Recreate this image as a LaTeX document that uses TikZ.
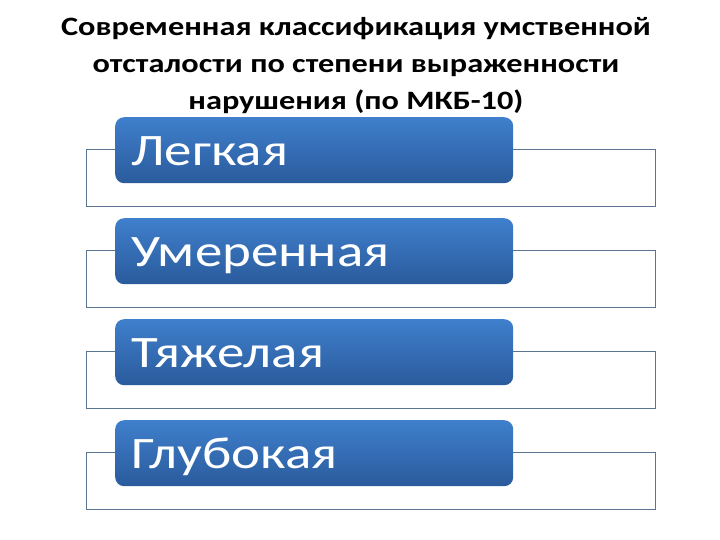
\documentclass[tikz,border=0pt]{standalone}
\usepackage{fontspec}
\setmainfont{Carlito}
\newfontfamily\widefont[FakeStretch=1.22]{Carlito}
\usetikzlibrary{positioning}

\definecolor{framegray}{HTML}{5B7590}
\definecolor{blueup}{HTML}{3F7FCC}
\definecolor{bluedown}{HTML}{2A5B9C}

\tikzset{
  heading/.style={font=\widefont\fontsize{26.5}{37}\bfseries\selectfont, align=center, anchor=north},
  framebox/.style={draw=framegray, line width=0.8pt, fill=white, anchor=north west,
    minimum width=569pt, minimum height=57pt, inner sep=0pt},
  levelbox/.style={rounded corners=9pt, top color=blueup, bottom color=bluedown,
    text=white, anchor=north west, minimum width=398pt, minimum height=66pt,
    inner xsep=16pt, inner ysep=0pt, text width=366pt, align=left,
    text height=30pt, text depth=0pt, font=\widefont\fontsize{45}{45}\selectfont}
}

\begin{document}
\begin{tikzpicture}[x=1pt, y=-1pt]
    \useasboundingbox (0,0) rectangle (720,540);
    \fill[white] (0,0) rectangle (720,540);
    % title
    \node[heading] (ttl) at (356,14) {Современная классификация умственной\\отсталости по степени выраженности\\нарушения (по МКБ-10)};
    % frames behind the levels
    \node[framebox] (f1) at (86,149) {};
    \node[framebox] (f2) at (86,250) {};
    \node[framebox] (f3) at (86,351) {};
    \node[framebox] (f4) at (86,452) {};
    % levels
    \node[levelbox] (l1) at (115,117) {Легкая};
    \node[levelbox] (l2) at (115,218) {Умеренная};
    \node[levelbox] (l3) at (115,319) {Тяжелая};
    \node[levelbox] (l4) at (115,420) {Глубокая};
\end{tikzpicture}
\end{document}
